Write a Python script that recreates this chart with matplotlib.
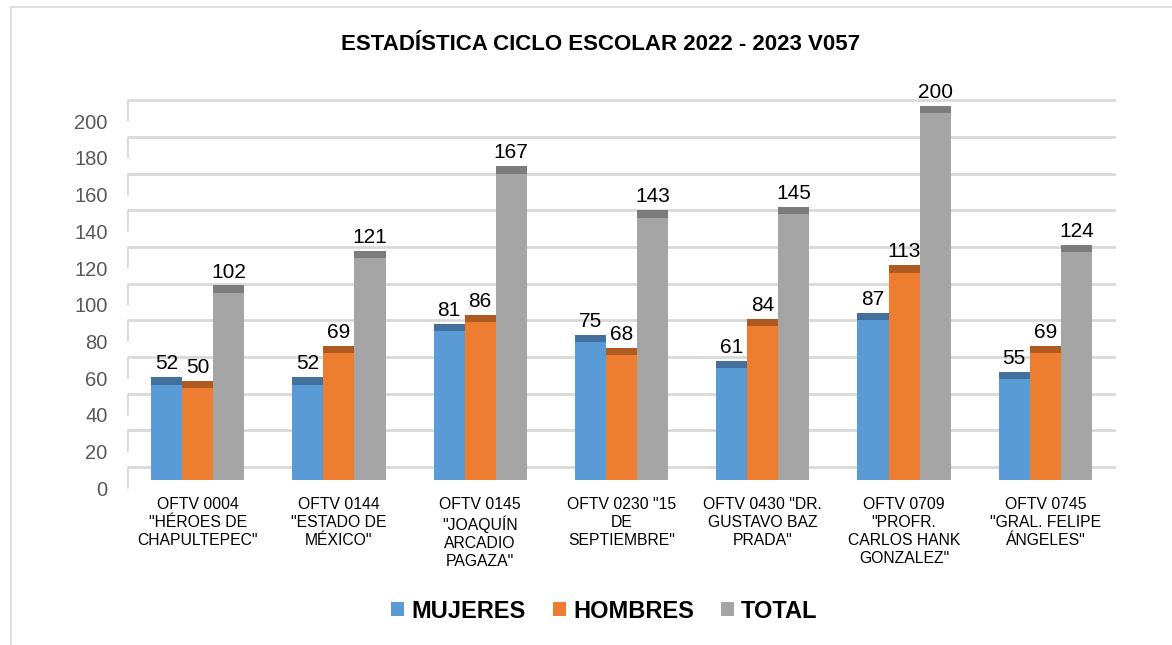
import matplotlib
matplotlib.use("Agg")
import matplotlib.pyplot as plt
from matplotlib import font_manager
from matplotlib.patches import Patch
from matplotlib.lines import Line2D
import numpy as np

categories = [
    'OFTV 0004\n"HÉROES DE\nCHAPULTEPEC"',
    'OFTV 0144\n"ESTADO DE\nMÉXICO"',
    'OFTV 0145\n"JOAQUÍN\nARCADIO\nPAGAZA"',
    'OFTV 0230 "15\nDE\nSEPTIEMBRE"',
    'OFTV 0430 "DR.\nGUSTAVO BAZ\nPRADA"',
    'OFTV 0709\n"PROFR.\nCARLOS HANK\nGONZALEZ"',
    'OFTV 0745\n"GRAL. FELIPE\nÁNGELES"',
]
mujeres = [52, 52, 81, 75, 61, 87, 55]
hombres = [50, 69, 86, 68, 84, 113, 69]
total = [102, 121, 167, 143, 145, 200, 124]
series_names = ["MUJERES", "HOMBRES", "TOTAL"]
yticks = [0, 20, 40, 60, 80, 100, 120, 140, 160, 180, 200]
title = "ESTADÍSTICA CICLO ESCOLAR 2022 - 2023 V057"

face_colors = ["#5B9BD5", "#ED7D31", "#A5A5A5"]
cap_colors = ["#41719C", "#AE5A21", "#7C7C7C"]

avail = {f.name for f in font_manager.fontManager.ttflist}
base_font = "Liberation Sans" if "Liberation Sans" in avail else "DejaVu Sans"
title_font = "Liberation Sans Narrow" if "Liberation Sans Narrow" in avail else base_font
plt.rcParams["font.family"] = [base_font, "DejaVu Sans"]

W, H = 1172, 645
fig = plt.figure(figsize=(W / 100, H / 100), dpi=100)
fig.patch.set_facecolor("white")

# pixel layout
x_left, x_right = 127, 1116
y_base_px = 480.0
px_per_unit = 1.835
ylim_lo, ylim_hi = -10, 215
y_top_px = y_base_px - ylim_hi * px_per_unit
y_bot_px = y_base_px - ylim_lo * px_per_unit
ax = fig.add_axes([x_left / W, 1 - y_bot_px / H, (x_right - x_left) / W,
                   (y_bot_px - y_top_px) / H])
ax.set_xlim(0, len(categories))
ax.set_ylim(ylim_lo, ylim_hi)
for s in ax.spines.values():
    s.set_visible(False)

grid_off = 7.0   # back-wall gridline offset (units)
lab_off = -4.5   # tick label offset
cap_h = 4.0
grid_col = "#D9D9D9"
for v in yticks:
    ax.plot([0, len(categories)], [v + grid_off, v + grid_off], color=grid_col,
            lw=2.0, zorder=1, solid_capstyle="butt")
    ax.plot([0, 0], [v + grid_off, v + lab_off], color=grid_col, lw=2.0,
            zorder=1, solid_capstyle="butt")

x = np.arange(len(categories)) + 0.5
bw = 0.22
data = [mujeres, hombres, total]
for i, vals in enumerate(data):
    xs = x + (i - 1) * bw
    ax.bar(xs, vals, width=bw, color=face_colors[i], zorder=3, linewidth=0)
    ax.bar(xs, [cap_h] * len(vals), bottom=vals, width=bw, color=cap_colors[i],
           zorder=3, linewidth=0)
    for xx, vv in zip(xs, vals):
        ax.text(xx, vv + cap_h + 4.3, str(vv), ha="center", va="baseline",
                fontsize=15, color="black", zorder=4)

ax.set_yticks([v + lab_off for v in yticks])
ax.set_yticklabels([str(v) for v in yticks], fontsize=14.5, color="#595959")
ax.tick_params(axis="y", length=0, pad=14)
ax.set_xticks(x)
ax.set_xticklabels(categories, fontsize=11.3, color="black", linespacing=1.25)
ax.tick_params(axis="x", length=0, pad=-1)

fig.text(601 / W, 1 - 45 / H, title, ha="center", va="center",
         fontsize=16, fontweight="bold", family=[title_font, "DejaVu Sans"])

handles = [Patch(facecolor=c, edgecolor="none") for c in face_colors]
fig.legend(handles, series_names, loc="center", bbox_to_anchor=(604.5 / W, 1 - 611 / H),
           ncol=3, frameon=False, prop={"size": 17, "weight": "bold"},
           handlelength=0.55, handleheight=0.55, handletextpad=0.3,
           columnspacing=1.15, borderaxespad=0)

# outer chart frame
fig.add_artist(Line2D([11 / W, 11 / W], [0, 1 - 7 / H], color="#D9D9D9", lw=1.2,
                      transform=fig.transFigure))
fig.add_artist(Line2D([11 / W, 1], [1 - 7 / H, 1 - 7 / H], color="#D9D9D9", lw=1.2,
                      transform=fig.transFigure))

fig.savefig("out.png", dpi=100)
